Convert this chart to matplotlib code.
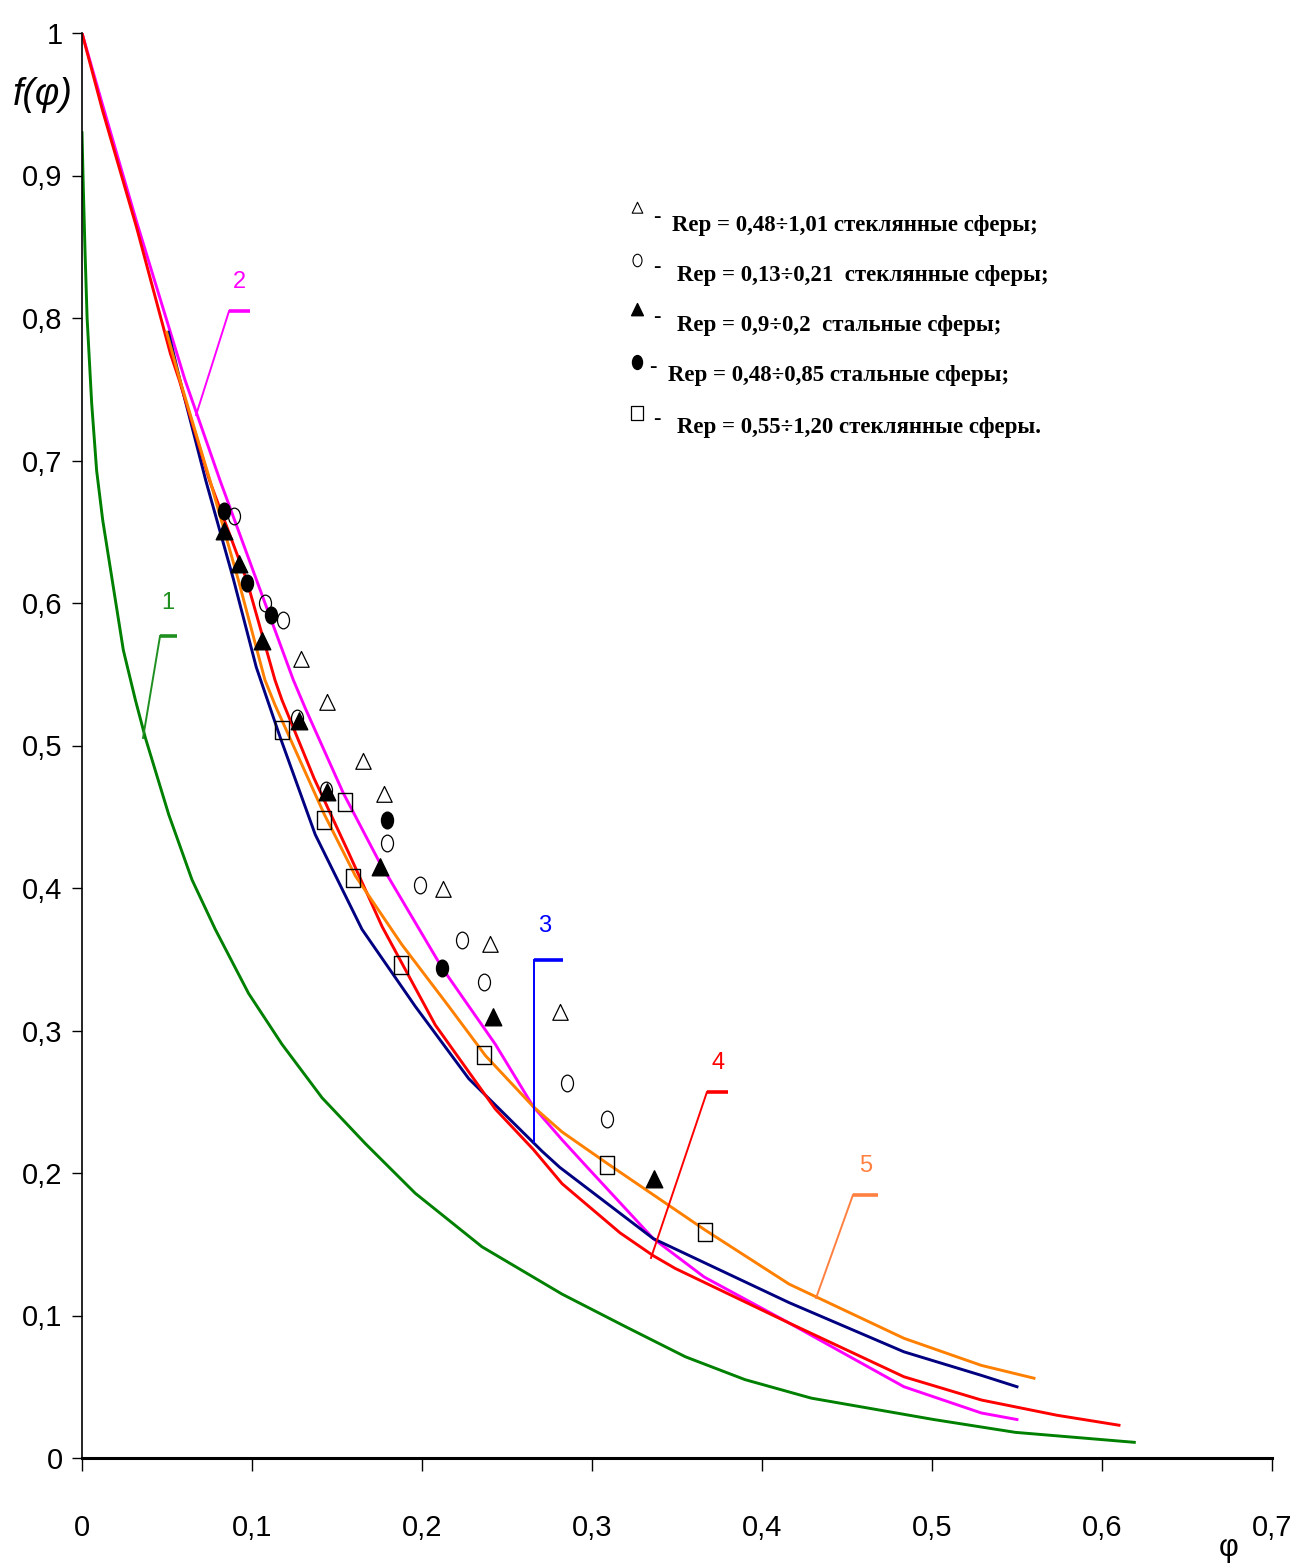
import numpy as np
import matplotlib
matplotlib.use('Agg')
import matplotlib.pyplot as plt
from matplotlib.path import Path
from matplotlib.transforms import Affine2D
from matplotlib.ticker import FuncFormatter


# Curve 1
phi_1 = [0.0, 0.0008, 0.0018, 0.003, 0.0057, 0.0086, 0.0122, 0.0243, 0.0314, 0.0373,
         0.051, 0.0647, 0.0784, 0.098, 0.1176, 0.1412, 0.1667, 0.196, 0.2353, 0.2824,
         0.32, 0.355, 0.39, 0.429, 0.501, 0.549, 0.619]
f_1 = [0.93, 0.89, 0.846, 0.80, 0.74, 0.693, 0.658, 0.567, 0.532, 0.5053,
       0.4516, 0.4058, 0.371, 0.326, 0.2904, 0.2528, 0.2206, 0.1858, 0.1482, 0.115,
       0.092, 0.071, 0.055, 0.042, 0.027, 0.018, 0.011]

# Curve 2
phi_2 = [0.0, 0.012, 0.032, 0.052, 0.0606, 0.0812, 0.1027, 0.1243, 0.1314, 0.1537,
         0.1745, 0.2118, 0.2431, 0.2655, 0.2824, 0.2969, 0.336, 0.366, 0.416, 0.4835,
         0.529, 0.55]
f_2 = [1.0, 0.95, 0.868, 0.79, 0.7565, 0.686, 0.616, 0.546, 0.526, 0.4666,
       0.4192, 0.344, 0.2904, 0.2465, 0.2233, 0.2044, 0.154, 0.127, 0.0947, 0.05,
       0.0316, 0.027]

# Curve 3
phi_3 = [0.0508, 0.0575, 0.0728, 0.089, 0.1025, 0.1165, 0.1372, 0.1647, 0.196, 0.2275,
         0.2706, 0.281, 0.336, 0.416, 0.4835, 0.529, 0.55]
f_3 = [0.79, 0.757, 0.686, 0.617, 0.555, 0.506, 0.4375, 0.371, 0.317, 0.2662,
       0.2153, 0.204, 0.154, 0.109, 0.0745, 0.058, 0.05]

# Curve 4
phi_4 = [0.0, 0.012, 0.032, 0.052, 0.0572, 0.075, 0.0969, 0.1135, 0.1176, 0.1365,
         0.1569, 0.1765, 0.2078, 0.2431, 0.2655, 0.2824, 0.3165, 0.336, 0.349, 0.416,
         0.4835, 0.529, 0.5735, 0.61]
f_4 = [1.0, 0.946, 0.864, 0.775, 0.7565, 0.686, 0.616, 0.546, 0.532, 0.477,
       0.4246, 0.373, 0.3039, 0.2449, 0.2165, 0.1925, 0.158, 0.142, 0.133, 0.0947,
       0.057, 0.0407, 0.03, 0.023]

# Curve 5
phi_5 = [0.0498, 0.0576, 0.0753, 0.092, 0.1076, 0.1137, 0.1424, 0.1608, 0.1882, 0.2157,
         0.2373, 0.2655, 0.2824, 0.3086, 0.3665, 0.416, 0.4835, 0.529, 0.56]
f_5 = [0.79, 0.7565, 0.686, 0.616, 0.546, 0.528, 0.452, 0.4085, 0.3602, 0.317,
       0.2824, 0.2465, 0.2288, 0.207, 0.16, 0.122, 0.084, 0.065, 0.056]

curve_names = ['1', '2', '3', '4', '5']

# Experimental points
tri_open_phi = [0.1288, 0.1441, 0.1653, 0.1776, 0.2124, 0.24, 0.2812]
tri_open_f = [0.560, 0.5298, 0.4884, 0.4653, 0.3986, 0.36, 0.3123]

circ_open_phi = [0.0894, 0.1076, 0.1182, 0.1265, 0.1435, 0.1794, 0.1988, 0.2235, 0.2365,
                 0.2853, 0.3088]
circ_open_f = [0.661, 0.600, 0.588, 0.5193, 0.4688, 0.4316, 0.4021, 0.3635, 0.334,
               0.2632, 0.2379]

tri_fill_phi = [0.0835, 0.0924, 0.1059, 0.1276, 0.1441, 0.1753, 0.2418, 0.3365]
tri_fill_f = [0.6498, 0.6267, 0.5726, 0.5165, 0.4667, 0.414, 0.3088, 0.1951]

circ_fill_phi = [0.0835, 0.0971, 0.1112, 0.1794, 0.2118]
circ_fill_f = [0.6646, 0.614, 0.5916, 0.4477, 0.3439]

square_phi = [0.1176, 0.1424, 0.1547, 0.1594, 0.1876, 0.2365, 0.3088, 0.3665]
square_f = [0.5109, 0.4477, 0.4604, 0.407, 0.346, 0.2828, 0.2056, 0.1586]

legend_text = [
    'Rep = 0,48÷1,01 стеклянные сферы;',
    'Rep = 0,13÷0,21  стеклянные сферы;',
    'Rep = 0,9÷0,2  стальные сферы;',
    'Rep = 0,48÷0,85 стальные сферы;',
    'Rep = 0,55÷1,20 стеклянные сферы.',
]

x_ticks = [0, 0.1, 0.2, 0.3, 0.4, 0.5, 0.6, 0.7]
y_ticks = [0, 0.1, 0.2, 0.3, 0.4, 0.5, 0.6, 0.7, 0.8, 0.9, 1.0]

narrow = ['Liberation Sans Narrow', 'Liberation Sans', 'DejaVu Sans']
serif = ['Liberation Serif', 'DejaVu Serif']

# slightly tall marker shapes
ellipse = Path.unit_circle().transformed(Affine2D().scale(0.72, 1.0))
triangle = Path([(0, 1), (-0.85, -0.75), (0.85, -0.75), (0, 1)],
                [Path.MOVETO, Path.LINETO, Path.LINETO, Path.CLOSEPOLY])
square = Path([(-0.82, -1), (0.82, -1), (0.82, 1), (-0.82, 1), (-0.82, -1)],
              [Path.MOVETO, Path.LINETO, Path.LINETO, Path.LINETO, Path.CLOSEPOLY])

fig = plt.figure(figsize=(12.94, 15.66), dpi=100)
ax = fig.add_axes([82 / 1294, 1 - 1458 / 1566, 1190 / 1294, 1425 / 1566])

colors = ['#008000', '#ff00ff', '#000080', '#ff0000', '#ff8000']
curves = [(phi_1, f_1), (phi_2, f_2), (phi_3, f_3), (phi_4, f_4), (phi_5, f_5)]
for (xs, ys), c in zip(curves, colors):
    ax.plot(xs, ys, color=c, lw=2.1, solid_joinstyle='round', zorder=2)

# experimental data
ax.plot(circ_open_phi, circ_open_f, ls='none', marker=ellipse, ms=12, mfc='none',
        mec='black', mew=0.9, zorder=3)
ax.plot(tri_open_phi, tri_open_f, ls='none', marker=triangle, ms=13, mfc='none',
        mec='black', mew=0.9, zorder=3)
ax.plot(square_phi, square_f, ls='none', marker=square, ms=13, mfc='none',
        mec='black', mew=1.0, zorder=3)
ax.plot(tri_fill_phi, tri_fill_f, ls='none', marker=triangle, ms=14, mfc='black',
        mec='black', zorder=4)
ax.plot(circ_fill_phi, circ_fill_f, ls='none', marker=ellipse, ms=12, mfc='black',
        mec='black', zorder=4)

# curve numbers with leader lines
leaders = [
    ([0.0359, 0.0459], [0.5053, 0.5768], 0.0559, (0.0506, 0.600), '#1f8f1f'),
    ([0.0671, 0.0865], [0.7319, 0.8049], 0.0988, (0.0929, 0.825), '#ff00ff'),
    ([0.2659, 0.2659], [0.2218, 0.3495], 0.2829, (0.2724, 0.373), '#0000ff'),
    ([0.3347, 0.3676], [0.1404, 0.2568], 0.3800, (0.3741, 0.277), '#ff0000'),
    ([0.4318, 0.4535], [0.1123, 0.1846], 0.4682, (0.4612, 0.205), '#ff8040'),
]
for name, (lx, ly, hx, (tx, ty), c) in zip(curve_names, leaders):
    ax.plot(lx, ly, color=c, lw=1.4, zorder=2)
    ax.plot([lx[1], hx], [ly[1], ly[1]], color=c, lw=2.6, solid_capstyle='butt', zorder=2)
    ax.text(tx, ty, name, color=c, fontsize=17, family=narrow, ha='center', va='center')

ax.set_xlim(0, 0.7)
ax.set_ylim(0, 1)
ax.set_xticks(x_ticks)
ax.set_yticks(y_ticks)
fmt = FuncFormatter(lambda v, p: ('%g' % v).replace('.', ','))
ax.xaxis.set_major_formatter(fmt)
ax.yaxis.set_major_formatter(fmt)
ax.tick_params(axis='y', direction='out', length=7, width=1, pad=7, labelsize=21)
ax.tick_params(axis='x', direction='out', length=9, width=1, pad=31, labelsize=21)
for lab in ax.get_xticklabels() + ax.get_yticklabels():
    lab.set_family(narrow)
ax.spines['top'].set_visible(False)
ax.spines['right'].set_visible(False)
ax.spines['left'].set_linewidth(1.2)
ax.spines['bottom'].set_linewidth(2.2)

fig.text(43 / 1294, 1 - 95 / 1566, 'f(φ)', fontsize=27, style='italic', family=narrow,
         ha='center', va='center')
fig.text(1229 / 1294, 1 - 1548 / 1566, 'φ', fontsize=22, family=narrow,
         ha='center', va='center')

# legend block
leg_marker_y = [208, 260, 310, 362, 413]
leg_base_y = [231, 281, 331, 381, 433]
leg_dash_x = [657, 657, 657, 653, 657]
leg_text_x = [672, 677, 677, 668, 677]
leg_styles = [
    dict(marker=triangle, ms=9, mfc='none', mec='black', mew=0.8),
    dict(marker=ellipse, ms=9, mfc='none', mec='black', mew=0.8),
    dict(marker=triangle, ms=10, mfc='black', mec='black'),
    dict(marker=ellipse, ms=10, mfc='black', mec='black'),
    dict(marker=square, ms=10, mfc='none', mec='black', mew=0.9),
]
for i, txt in enumerate(legend_text):
    fig.lines.append(plt.Line2D([637 / 1294], [1 - leg_marker_y[i] / 1566],
                                transform=fig.transFigure, ls='none', **leg_styles[i]))
    fig.text(leg_dash_x[i] / 1294, 1 - (leg_base_y[i] - 14) / 1566, '-', fontsize=16,
             family=serif, fontweight='bold', ha='center', va='center')
    fig.text(leg_text_x[i] / 1294, 1 - leg_base_y[i] / 1566, txt, fontsize=16.5,
             family=serif, fontweight='bold', ha='left', va='baseline')

fig.savefig('out.png', dpi=100)
